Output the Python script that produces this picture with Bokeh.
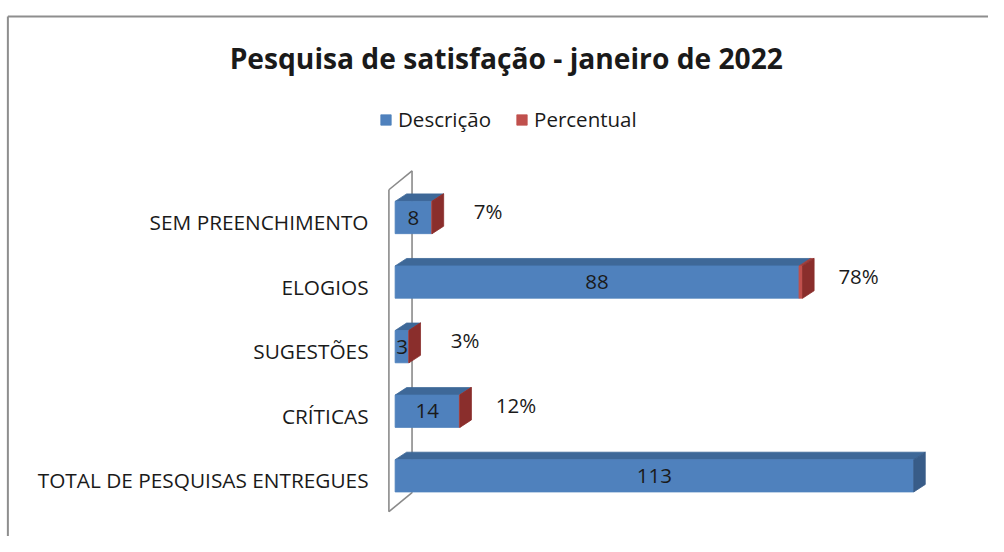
from bokeh.plotting import figure
from bokeh.models import Range1d, Legend, LegendItem
from bokeh.core.properties import value
from bokeh.embed import file_html
from bokeh.resources import INLINE

# ---------------- data ----------------
titulo = "Pesquisa de satisfação - janeiro de 2022"
categorias = ["TOTAL DE PESQUISAS ENTREGUES", "CRÍTICAS", "SUGESTÕES", "ELOGIOS", "SEM PREENCHIMENTO"]
descricao = [113, 14, 3, 88, 8]
percentual = [None, 0.12, 0.03, 0.78, 0.07]
series = ["Descrição", "Percentual"]

# ---------------- layout constants ----------------
W, H = 988, 536
REF_W, REF_H = 1004, 552          # reference picture size the layout is measured in
SX, SY = W / REF_W, H / REF_H
ZERO_PX = 401.0       # reference x of value 0
PPU = 4.664           # reference pixels per value unit
BASE_PY = 489.5       # reference y of first category centre
CAT_PX = 66.5         # reference pixels per category

def xd(px):
    return (px - ZERO_PX) / PPU

def yd(py):
    return (BASE_PY - py) / CAT_PX

BAR_H = 0.5
DX = 11.7 / PPU
DY = 7.7 / CAT_PX

BLUE_FRONT = "#4F81BD"
BLUE_TOP = "#3E6898"
BLUE_SIDE = "#385C88"
RED_FRONT = "#C0504D"
RED_TOP = "#9E3C3A"
RED_SIDE = "#8A2E2C"
TEXT = "#1A1A1A"
FONT = "Open Sans"

p = figure(width=W, height=H,
           x_range=Range1d(xd(0), xd(REF_W)),
           y_range=Range1d(yd(REF_H), yd(0)),
           output_backend="svg", toolbar_location=None,
           x_axis_location=None, y_axis_location=None,
           min_border=0, title=None)
p.outline_line_color = None
p.grid.visible = False
p.background_fill_color = "white"
p.border_fill_color = "white"

# outer chart border (top and left visible)
p.segment(x0=[xd(7.5), xd(7.5)], y0=[yd(16.5), yd(16.5)],
          x1=[xd(REF_W + 20), xd(7.5)], y1=[yd(16.5), yd(REF_H + 20)],
          line_color="#8E8E8E", line_width=2)

# 3D wall
n = len(categorias)
wx0 = xd(394.7)
wx1 = wx0 + 23.5 / PPU
wdy = 19.5 / CAT_PX
wyb = 0 - 0.555
wyt = (n - 1) + 0.43
p.segment(x0=[wx0, wx1, wx0, wx0], y0=[wyb, wyb + wdy, wyt, wyb],
          x1=[wx0, wx1, wx1, wx1], y1=[wyt, wyt + wdy, wyt + wdy, wyb + wdy],
          line_color="#8A8A8A", line_width=1.6)

# faces
bt_xs, bt_ys = [], []
rt_xs, rt_ys = [], []
sb_xs, sb_ys = [], []
sr_xs, sr_ys = [], []
bf_l, bf_r, bf_b, bf_t = [], [], [], []
rf_l, rf_r, rf_b, rf_t = [], [], [], []
for i, v in enumerate(descricao):
    pc = percentual[i] or 0
    top = i + BAR_H / 2
    bot = i - BAR_H / 2
    bt_xs.append([0, v, v + DX, DX]); bt_ys.append([top, top, top + DY, top + DY])
    bf_l.append(0); bf_r.append(v); bf_b.append(bot); bf_t.append(top)
    e = v + pc
    side_x = [e, e + DX, e + DX, e]
    side_y = [bot, bot + DY, top + DY, top]
    if pc > 0:
        rt_xs.append([v, e, e + DX, v + DX]); rt_ys.append([top, top, top + DY, top + DY])
        rf_l.append(v); rf_r.append(e); rf_b.append(bot); rf_t.append(top)
        sr_xs.append(side_x); sr_ys.append(side_y)
    else:
        sb_xs.append(side_x); sb_ys.append(side_y)

p.patches(bt_xs, bt_ys, fill_color=BLUE_TOP, line_color=BLUE_TOP, line_width=0.8)
p.patches(rt_xs, rt_ys, fill_color=RED_TOP, line_color=RED_TOP, line_width=0.8)
r_blue = p.quad(left=bf_l, right=bf_r, bottom=bf_b, top=bf_t,
                fill_color=BLUE_FRONT, line_color=BLUE_FRONT, line_width=0.8)
r_red = p.quad(left=rf_l, right=rf_r, bottom=rf_b, top=rf_t,
               fill_color=RED_FRONT, line_color=RED_FRONT, line_width=0.8)
p.patches(sb_xs, sb_ys, fill_color=BLUE_SIDE, line_color=BLUE_SIDE, line_width=0.8)
p.patches(sr_xs, sr_ys, fill_color=RED_SIDE, line_color=RED_SIDE, line_width=0.8)

# value labels inside bars
p.text(x=[v / 2 for v in descricao], y=list(range(n)), text=[str(v) for v in descricao],
       text_align="center", text_baseline="middle", text_color=TEXT,
       text_font=value(FONT), text_font_size="20.5px")

# percent labels
px_, py_, pt_ = [], [], []
for i, v in enumerate(descricao):
    pc = percentual[i]
    if pc:
        px_.append(v + pc + 12.2)
        py_.append(i + 0.1)
        pt_.append(f"{round(pc * 100)}%")
p.text(x=px_, y=py_, text=pt_, text_align="center", text_baseline="middle",
       text_color=TEXT, text_font=value(FONT), text_font_size="20.5px")

# category labels
p.text(x=[xd(374)] * n, y=[i - 0.07 for i in range(n)], text=categorias,
       text_align="right", text_baseline="middle", text_color=TEXT,
       text_font=value(FONT), text_font_size="20.8px")

# title
p.text(x=[xd(514)], y=[yd(59)], text=[titulo], text_align="center", text_baseline="middle",
       text_color=TEXT, text_font=value(FONT), text_font_size="28.2px", text_font_style="bold")

legend = Legend(items=[LegendItem(label=series[0], renderers=[r_blue]),
                       LegendItem(label=series[1], renderers=[r_red])],
                orientation="horizontal", location=(round(385 * SX), 403),
                margin=0, padding=0, spacing=24,
                glyph_width=13, glyph_height=13, label_standoff=6,
                label_text_font=FONT, label_text_font_size="20.5px",
                label_text_color=TEXT,
                border_line_color=None, background_fill_alpha=0)
p.add_layout(legend)

open("out.html", "w").write(file_html(p, INLINE))
